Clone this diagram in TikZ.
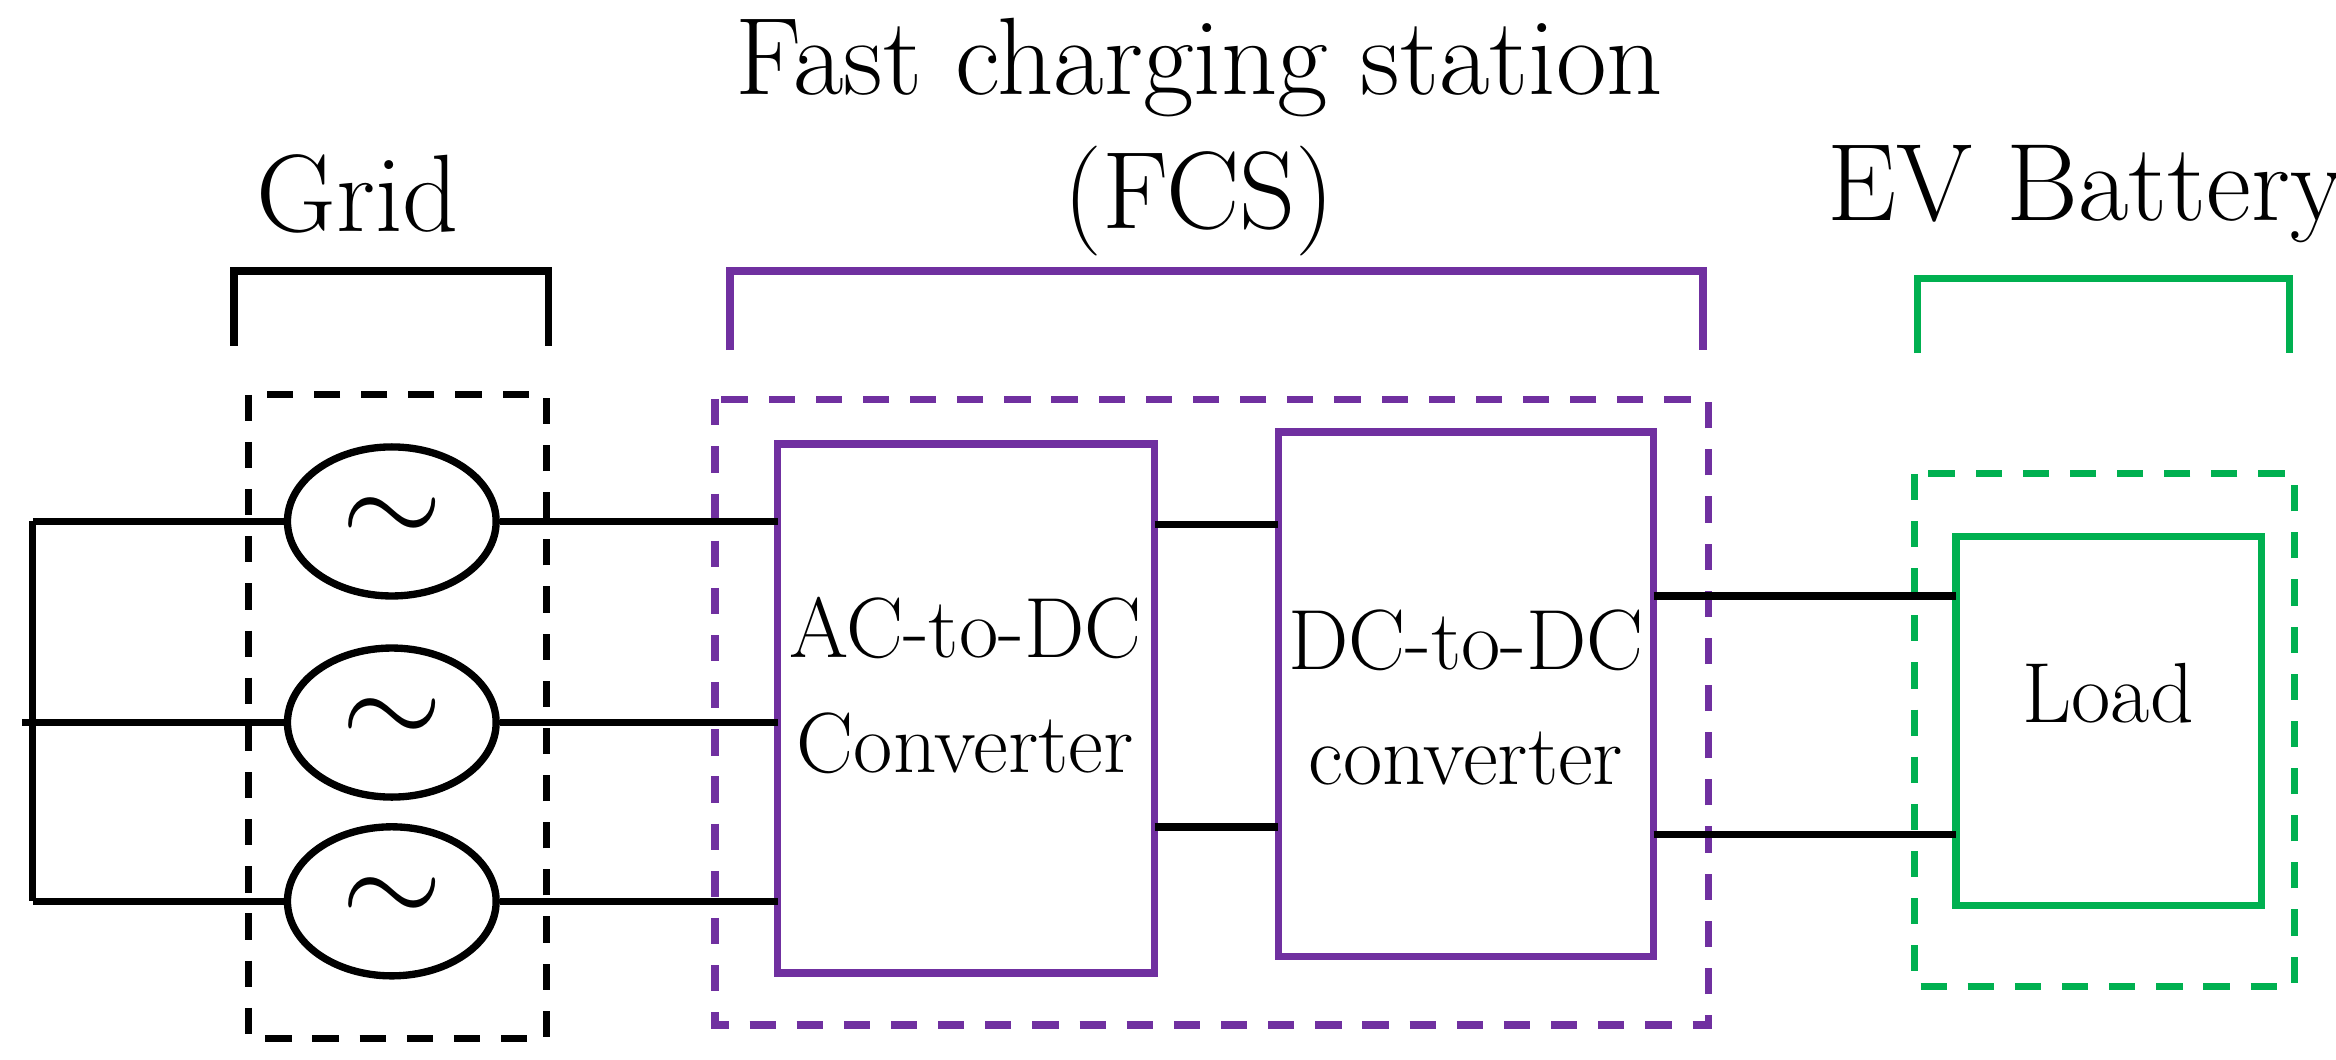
\documentclass[tikz,border=0pt]{standalone}
\usetikzlibrary{shapes.geometric}
\begin{document}
\begin{tikzpicture}[x=0.01cm,y=-0.01cm,line width=1.4pt,
  lbl/.style={font=\fontsize{21}{24}\selectfont,inner sep=0pt,align=center},
  blk/.style={font=\fontsize{16.3}{22}\selectfont,align=center,inner sep=0pt},
  src/.style={draw,ellipse,minimum width=1.4cm,minimum height=1.0cm,inner sep=0pt,font=\fontsize{30}{30}\selectfont},
  dsh/.style={dash pattern=on 5pt off 4pt}]
\definecolor{pur}{HTML}{7030A0}\definecolor{grn}{HTML}{00B050}
\useasboundingbox (0,0) rectangle (1568,711);
\node[lbl] (t1) at (805,45) {Fast charging station};
\node[lbl] (t2) at (805,135) {(FCS)};
\node[lbl] (tg) at (240,130) {Grid};
\node[lbl] (tev) at (1400,130) {EV Battery};
\draw (157,232) -- (157,182) -- (368,182) -- (368,232);
\draw[pur] (490,235) -- (490,182) -- (1143,182) -- (1143,235);
\draw[grn] (1287,237) -- (1287,187) -- (1537,187) -- (1537,237);
\draw[dsh] (167,265) rectangle (367,697);
\draw[pur,dsh] (480,268) rectangle (1147,688);
\draw[grn,dsh] (1285,318) rectangle (1540,662);
\node[src] (s1) at (263,350) {$\sim$};
\node[src] (s2) at (263,485) {$\sim$};
\node[src] (s3) at (263,605) {$\sim$};
\draw[pur] (522,298) rectangle (775,653);
\node[blk] (ac) at (648,460) {AC-to-DC\\Converter};
\draw[pur] (858,290) rectangle (1110,642);
\node[blk] (dc) at (984,468) {DC-to-DC\\converter};
\draw[grn] (1313,360) rectangle (1518,608);
\node[blk] (ld) at (1415,465) {Load};
\coordinate (b1) at (22,350); \coordinate (b3) at (22,605); \coordinate (b2) at (15,485);
\draw (b1) -- (b3);
\draw (b1) -- (s1.west); \draw (b2) -- (s2.west); \draw (b3) -- (s3.west);
\draw (s1.east) -- (522,350); \draw (s2.east) -- (522,485); \draw (s3.east) -- (522,605);
\draw (775,352) -- (858,352); \draw (775,555) -- (858,555);
\draw (1110,400) -- (1313,400); \draw (1110,560) -- (1313,560);
\end{tikzpicture}
\end{document}
